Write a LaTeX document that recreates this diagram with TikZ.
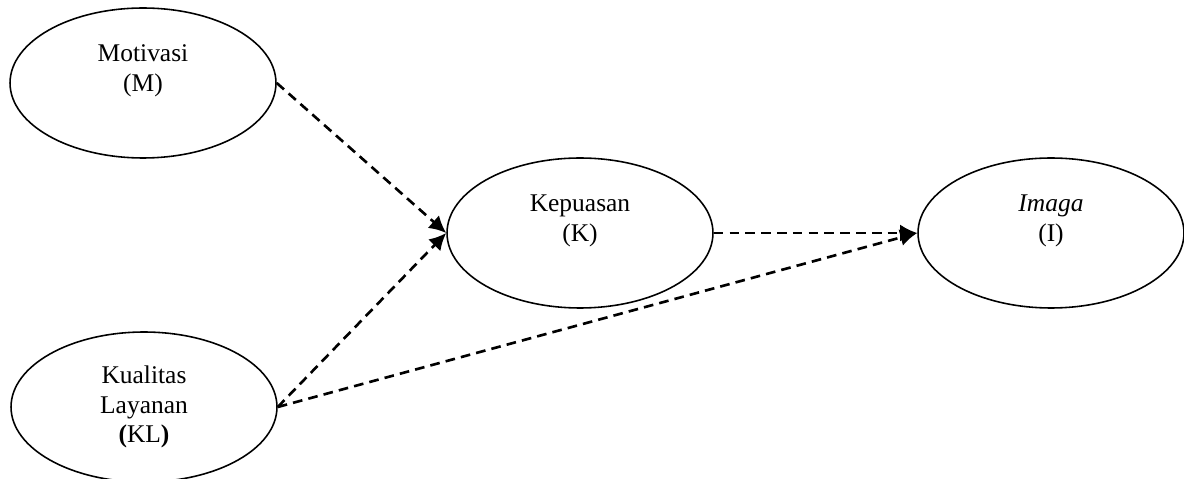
\documentclass[tikz,border=0pt]{standalone}
\usepackage{fontspec}
\setmainfont{Liberation Serif}
\usepackage{tikz}
\usetikzlibrary{arrows.meta, shapes.geometric}
\tikzset{
  latent/.style={
    ellipse,
    draw=black,
    line width=0.9pt,
    inner sep=0pt,
    minimum width=5.32cm,
    minimum height=3.0cm,
    align=center,
    font=\fontsize{14.5}{17}\selectfont
  },
  link/.style={-{Latex[length=3.4mm, width=3.4mm]}, line width=1.5pt, dash pattern=on 5.5pt off 3.5pt}
}

\begin{document}
\begin{tikzpicture}[x=0.02cm, y=-0.02cm]
  \useasboundingbox (0,0) rectangle (1184,479);
  \node[latent] (mot) at (143,83) {Motivasi\\(M)\\\mbox{}};
  \node[latent] (kl) at (144,407) {Kualitas\\Layanan\\\textbf{(}KL\textbf{)}};
  \node[latent] (kep) at (580,233) {Kepuasan\\(K)\\\mbox{}};
  \node[latent] (img) at (1051,233) {\textit{Imaga}\\(I)\\\mbox{}};

  \draw[link] (mot.east) -- (kep.west);
  \draw[link] (kl.east) -- (kep.west);
  \draw[link] (kep.east) -- (img.west);
  \draw[link] (kl.east) -- (img.west);
\end{tikzpicture}
\end{document}
